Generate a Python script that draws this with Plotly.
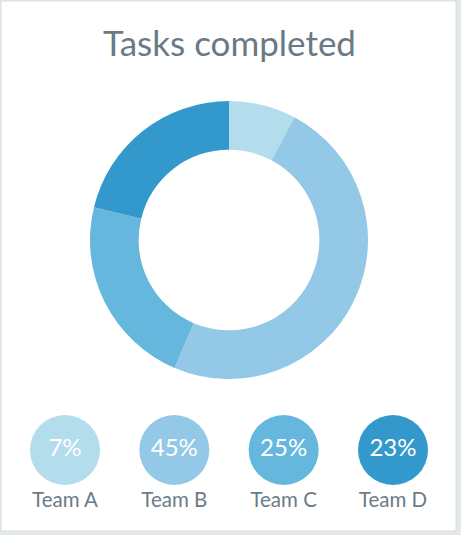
import plotly.graph_objects as go

# ---- data ----
teams = ["Team A", "Team B", "Team C", "Team D"]
pct_labels = ["7%", "45%", "25%", "23%"]
# slice shares as read from the donut arcs
shares = [7.8, 48.6, 22.4, 21.2]
colors = ["#b3dcec", "#93c9e7", "#66b7de", "#3399cc"]

W, H = 461, 535

fig = go.Figure()

# donut
cx, cy, r = 229, 240, 139
fig.add_trace(go.Pie(
    labels=teams, values=shares, hole=0.65, sort=False, direction="clockwise",
    rotation=0, marker=dict(colors=colors, line=dict(width=0)),
    textinfo="none", hoverinfo="label+percent", showlegend=False,
    domain=dict(x=[(cx - r) / W, (cx + r) / W], y=[1 - (cy + r) / H, 1 - (cy - r) / H]),
))

# team bubbles
fig.add_trace(go.Scatter(
    x=teams, y=[535 - 450] * 4, mode="markers+text",
    marker=dict(size=70, color=colors, line=dict(width=0)),
    text=pct_labels, textposition="middle center",
    textfont=dict(family="Lato", size=24, color="white"),
    showlegend=False, hoverinfo="skip", cliponaxis=False,
))
# team labels
fig.add_trace(go.Scatter(
    x=teams, y=[535 - 502] * 4, mode="text",
    text=teams, textposition="middle center",
    textfont=dict(family="Lato", size=20.5, color="#6b7b87"),
    showlegend=False, hoverinfo="skip", cliponaxis=False,
))

fig.update_layout(
    width=W, height=H,
    margin=dict(l=0, r=0, t=0, b=0),
    paper_bgcolor="#e3e9eb",
    plot_bgcolor="rgba(0,0,0,0)",
    title=dict(text="Tasks completed", x=229.5 / W, xanchor="center",
               y=1 - 44 / H, yanchor="middle", yref="paper",
               font=dict(family="Lato", size=35, color="#697a86")),
    xaxis=dict(type="category", range=[-0.5945, 3.622], domain=[0, 1],
               visible=False, fixedrange=True),
    yaxis=dict(range=[0, H], domain=[0, 1], visible=False, fixedrange=True),
    shapes=[dict(type="rect", xref="paper", yref="paper",
                 x0=1 / W, x1=456 / W, y0=1 - 531 / H, y1=1 - 1 / H,
                 fillcolor="white", line=dict(color="#d6dee1", width=1),
                 layer="below")],
)

fig.write_html("out.html", config={"displayModeBar": False},
               post_script="document.body.style.margin='0';document.body.style.overflow='hidden';")
